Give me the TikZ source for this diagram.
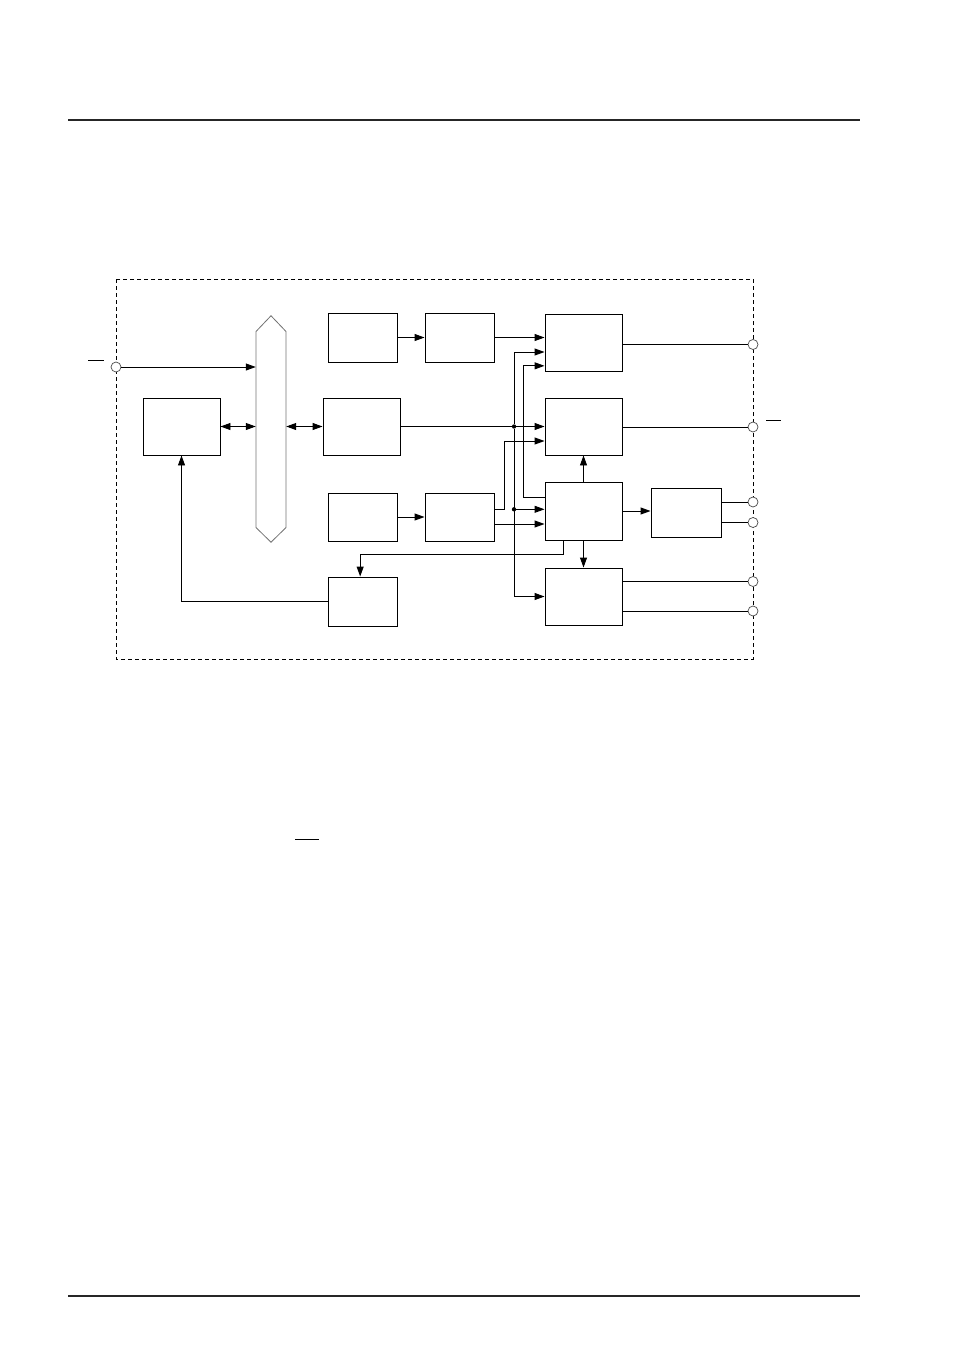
\documentclass[tikz,border=0pt]{standalone}
\usetikzlibrary{arrows.meta}

\tikzset{
  bigbox/.style={draw, line width=0.8pt, inner sep=0pt, minimum width=2.31cm, minimum height=1.71cm},
  smallbox/.style={draw, line width=0.8pt, inner sep=0pt, minimum width=2.07cm, minimum height=1.47cm},
  port/.style={circle, draw=black!70, fill=white, line width=0.6pt, inner sep=0pt, minimum size=0.3cm},
  sig/.style={line width=0.8pt, -{Triangle[length=0.3cm, width=0.21cm]}},
  bisig/.style={line width=0.8pt, {Triangle[length=0.3cm, width=0.21cm]}-{Triangle[length=0.3cm, width=0.21cm]}},
  wire/.style={line width=0.8pt},
  dot/.style={circle, fill, inner sep=0pt, minimum size=0.13cm}
}

\begin{document}
\begin{tikzpicture}[x=0.03cm, y=-0.03cm]
\useasboundingbox (0,0) rectangle (954,1348);

% page rules
\draw[line width=1.7pt, black!85] (68,120) -- (860,120);
\draw[line width=1.1pt, black!85] (68,1296) -- (860,1296);

% dashed frame
\draw[line width=0.7pt, dash pattern=on 0.12cm off 0.09cm] (116,279) rectangle (753,659);

% blocks
\node[bigbox] (ctrl) at (181.5,426.5) {};
\node[bigbox] (regs) at (361.5,426.5) {};
\node[smallbox] (osc) at (362.5,337.5) {};
\node[smallbox] (div) at (459.5,337.5) {};
\node[smallbox, minimum height=1.44cm] (cnt) at (362.5,517) {};
\node[smallbox, minimum height=1.44cm] (pre) at (459.5,517) {};
\node[smallbox] (irq) at (362.5,601.5) {};
\node[bigbox] (outa) at (583.5,342.5) {};
\node[bigbox] (outb) at (583.5,426.5) {};
\node[bigbox, minimum height=1.74cm] (core) at (583.5,511) {};
\node[bigbox] (outc) at (583.5,596.5) {};
\node[smallbox, minimum width=2.1cm] (drv) at (686,512.5) {};

% bus
\node[minimum width=0.9cm, minimum height=6.78cm, inner sep=0pt] (bus) at (271,429) {};
\draw[black!55, line width=0.7pt] (bus.north) -- (256,331.5) -- (256,527.5) -- (bus.south)
  -- (286,527.5) -- (286,331.5) -- cycle;

% ports
\node[port] (pin) at (116,367) {};
\node[port] (p1) at (753,344.5) {};
\node[port] (p2) at (753,427) {};
\node[port] (p3) at (753,502) {};
\node[port] (p4) at (753,522.5) {};
\node[port] (p5) at (753,581.5) {};
\node[port] (p6) at (753,611) {};

% junctions
\node[dot] (j1) at (514,426.5) {};
\node[dot] (j2) at (514,509.3) {};

% connectors
\draw[sig] (pin) -- (pin -| bus.west);
\draw[bisig] (ctrl.east) -- (ctrl.east -| bus.west);
\draw[bisig] (bus.east |- regs.west) -- (regs.west);
\draw[sig] (osc.east) -- (div.west);
\draw[sig] (cnt.east) -- (pre.west);
\draw[sig] (div.east) -- (div.east -| outa.west);
\draw[sig] (regs.east) -- (regs.east -| outb.west);
\draw[sig] (j1) |- ([yshift=-0.285cm]outa.west);
\draw[sig] (j1) |- (outc.west);
\draw[sig] (j2) -- (j2 -| core.west);
\draw[sig] ([yshift=0.42cm]core.west) -- ++(-21,0) |- ([yshift=-0.7cm]outa.west);
\draw[sig] ([yshift=0.24cm]pre.east) -- ++(10,0) |- ([yshift=-0.435cm]outb.west);
\draw[sig] ([yshift=-0.21cm]pre.east) -- ([yshift=-0.21cm]pre.east -| core.west);
\draw[sig] (core.north) -- (outb.south);
\draw[sig] (core.south) -- (outc.north);
\draw[sig] (core.east) -- (core.east -| drv.west);
\draw[sig] ([xshift=-0.6cm]core.south) -- ++(0,14) -| ([xshift=-0.07cm]irq.north);
\draw[sig] (irq.west) -| (ctrl.south);
\draw[wire] (outa.east |- p1) -- (p1);
\draw[wire] (outb.east |- p2) -- (p2);
\draw[wire] (drv.east |- p3) -- (p3);
\draw[wire] (drv.east |- p4) -- (p4);
\draw[wire] (outc.east |- p5) -- (p5);
\draw[wire] (outc.east |- p6) -- (p6);

% overbars
\draw[wire] (88,360) -- (104,360);
\draw[wire] (766,420.3) -- (781,420.3);
\draw[line width=1pt] (295,839.3) -- (319,839.3);
\end{tikzpicture}
\end{document}
